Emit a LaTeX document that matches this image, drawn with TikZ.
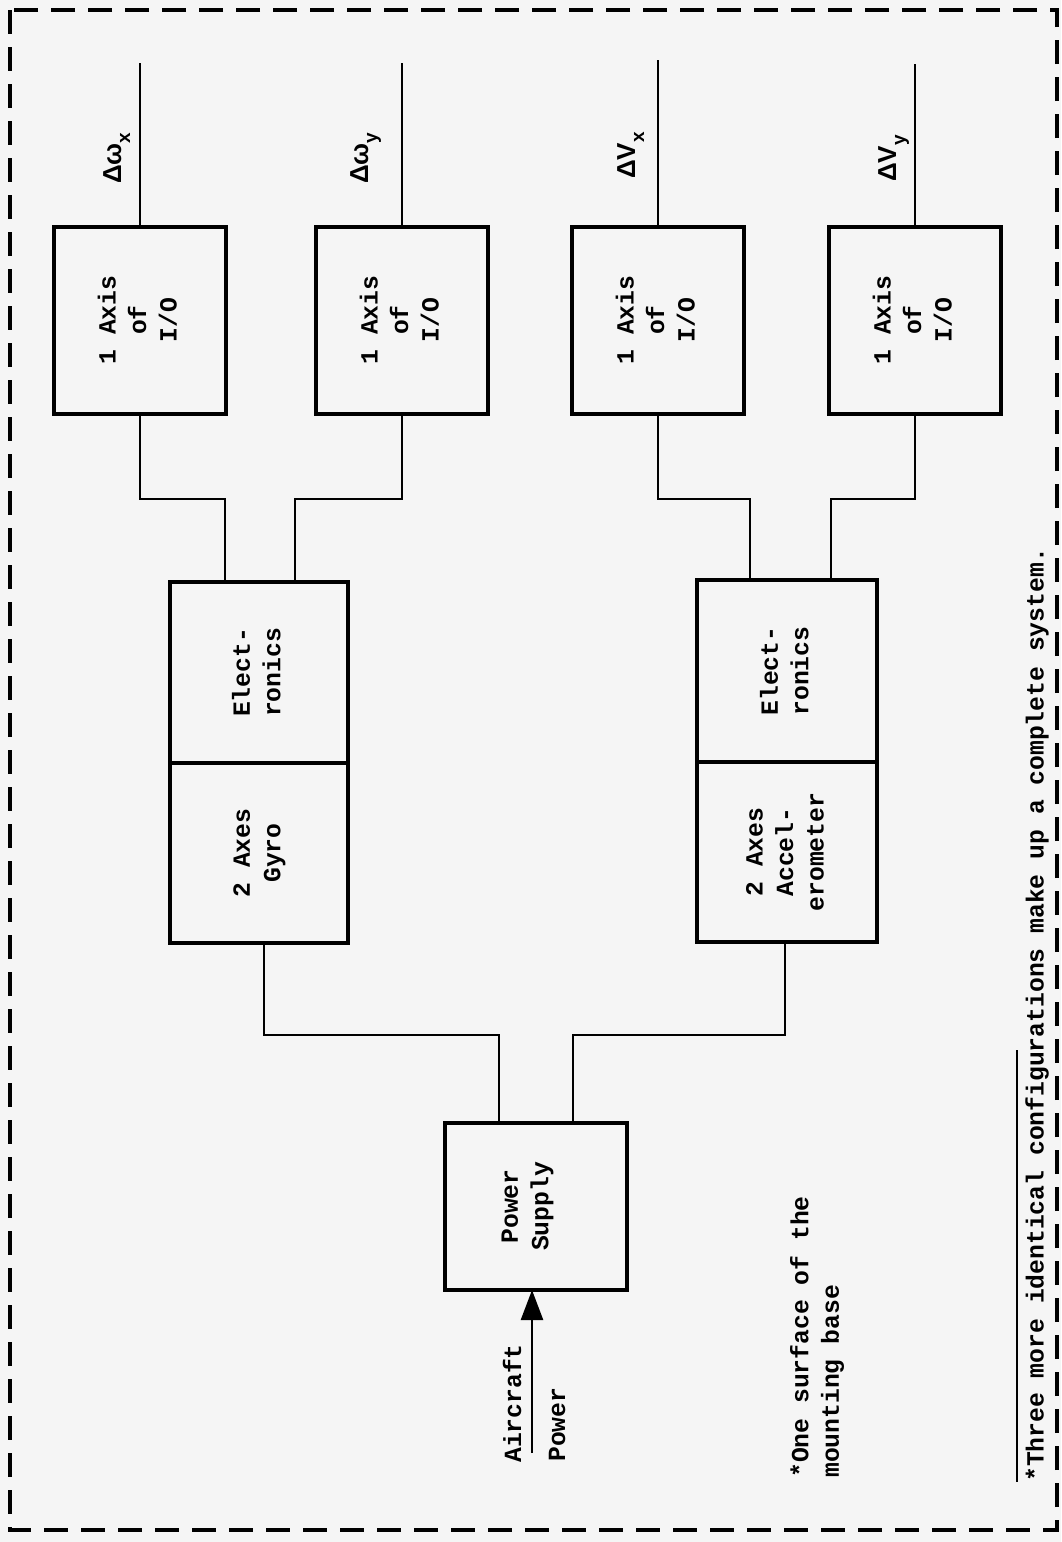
\documentclass[tikz,border=0pt]{standalone}
\usepackage{fontspec}
\setmainfont{Liberation Mono}
\newfontfamily\lblfont{Liberation Sans}
\usetikzlibrary{arrows.meta}

% text set upright (reading bottom to top), lines centred
\newcommand{\upright}[1]{\rotatebox{90}{\begin{tabular}{@{}c@{}}#1\end{tabular}}}
% lowered subscript for the output labels
\newcommand{\lowsub}[1]{\raisebox{-9pt}{\fontsize{19}{19}\selectfont #1}}

\begin{document}
\begin{tikzpicture}[x=1pt,y=-1pt,
  box/.style={draw, line width=4pt, inner sep=0pt, outer sep=0pt,
              font=\fontsize{24.7}{30.5}\selectfont\bfseries},
  wire/.style={line width=2.5pt},
  frame/.style={line width=3.5pt, dash pattern=on 24pt off 13pt},
  txt/.style={font=\fontsize{24.7}{30.5}\selectfont\bfseries, inner sep=0pt, rotate=90},
  lbl/.style={font=\lblfont\bfseries\fontsize{26}{26}\selectfont, inner sep=0pt,
              rotate=90, anchor=base west}]

% page and background
\fill[black!4] (0,0) rectangle (1061,1542);
\useasboundingbox (0,0) rectangle (1061,1542);

% dashed outline of the mounting-base surface
\draw[frame] (10,10) rectangle (1057,1530);

% output channels
\node[box, minimum width=172pt, minimum height=187pt] (io1) at (140,320) {\upright{1 Axis\\of\\I/O}};
\node[box, minimum width=172pt, minimum height=187pt] (io2) at (402,320) {\upright{1 Axis\\of\\I/O}};
\node[box, minimum width=172pt, minimum height=187pt] (io3) at (658,320) {\upright{1 Axis\\of\\I/O}};
\node[box, minimum width=172pt, minimum height=187pt] (io4) at (915,320) {\upright{1 Axis\\of\\I/O}};

% sensor modules
\node[box, minimum width=178pt, minimum height=181pt] (el1) at (259,672.5) {\upright{Elect-\\ronics}};
\node[box, minimum width=178pt, minimum height=180pt] (gy)  at (259,853)   {\upright{2 Axes\\Gyro}};
\node[box, minimum width=180pt, minimum height=182pt] (el2) at (787,671)   {\upright{Elect-\\ronics}};
\node[box, minimum width=180pt, minimum height=180pt] (ac)  at (787,852)   {\upright{2 Axes\\Accel-\\erometer}};

% power supply (label set a little left of and below the centre)
\node[box, minimum width=182pt, minimum height=167pt] (ps) at (536,1206.5)
  {\hspace*{-18pt}\raisebox{-9pt}{\upright{Power\\Supply}}};

% output leads and labels
\coordinate (t1) at (140,63);
\coordinate (t2) at (402,63);
\coordinate (t3) at (658,60);
\coordinate (t4) at (915,64);
\draw[wire] (io1.north) -- (t1);
\draw[wire] (io2.north) -- (t2);
\draw[wire] (io3.north) -- (t3);
\draw[wire] (io4.north) -- (t4);
\node[lbl] (dwx) at (121,184) {Δω\lowsub{x}};
\node[lbl] (dwy) at (368,184) {Δω\lowsub{y}};
\node[lbl] (dvx) at (635,179) {ΔV\lowsub{x}};
\node[lbl] (dvy) at (896,182) {ΔV\lowsub{y}};

% I/O channels to the electronics
\coordinate (j1) at (225,499);
\coordinate (j2) at (295,499);
\coordinate (j3) at (750,499);
\coordinate (j4) at (831,499);
\draw[wire] (io1.south) |- (j1) -- (j1 |- el1.north);
\draw[wire] (io2.south) |- (j2) -- (j2 |- el1.north);
\draw[wire] (io3.south) |- (j3) -- (j3 |- el2.north);
\draw[wire] (io4.south) |- (j4) -- (j4 |- el2.north);

% sensors to the power supply
\coordinate (k1) at (264,1035);
\coordinate (p1) at (499,1035);
\coordinate (k2) at (785,1035);
\coordinate (p2) at (573,1035);
\draw[wire] (k1 |- gy.south) -- (k1) -- (p1) -- (p1 |- ps.north);
\draw[wire] (k2 |- ac.south) -- (k2) -- (p2) -- (p2 |- ps.north);

% aircraft power input
\coordinate (src) at (532,1453);
\draw[wire, -{Triangle[width=22pt,length=30pt]}] (src) -- (src |- ps.south);
\node[txt, anchor=west] (air) at (512,1463) {Aircraft};
\node[txt, anchor=west] (pwr) at (557,1462) {Power};

% notes
\node[txt, anchor=west, align=left] (note1) at (817,1478) {*One surface of the\\mounting base};
\coordinate (r1) at (1017,1050);
\coordinate (r2) at (1017,1482);
\draw[wire] (r1) -- (r2);
\node[txt, anchor=west] (note2) at (1037,1482) {*Three more identical configurations make up a complete system.};
\end{tikzpicture}
\end{document}
